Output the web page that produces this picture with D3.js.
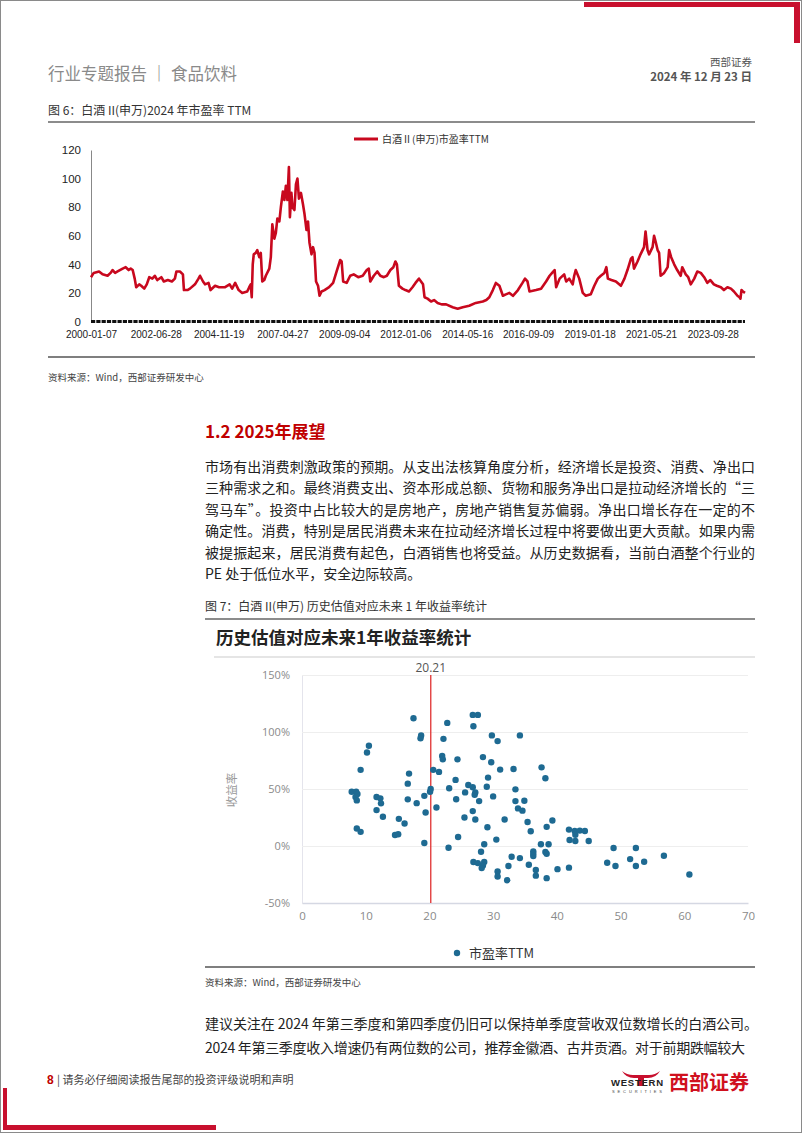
<!DOCTYPE html>
<html><head><meta charset="utf-8">
<script src="https://cdn.jsdelivr.net/npm/d3@7"></script>
<style>
body{margin:0;background:#fff;}
svg{display:block;}
</style></head>
<body>
<svg id="page" width="802" height="1133"></svg>
<script>
// ---------------- DATA ----------------
const peDates = ["2000-01-07","2000-02-14","2000-04-28","2000-06-16","2000-08-25","2000-10-06","2000-11-03","2000-12-08","2001-01-12","2001-03-23","2001-05-04","2001-06-15","2001-07-13","2001-08-10","2001-09-07","2001-09-28","2001-11-09","2001-12-07","2002-01-18","2002-02-22","2002-03-29","2002-05-10","2002-06-14","2002-07-19","2002-09-13","2002-10-18","2002-12-13","2003-02-07","2003-03-21","2003-04-11","2003-05-30","2003-07-11","2003-07-25","2003-09-12","2003-10-17","2003-12-26","2004-02-13","2004-03-05","2004-04-16","2004-05-14","2004-07-02","2004-07-30","2004-10-01","2004-11-26","2005-02-18","2005-04-22","2005-05-27","2005-07-08","2005-08-26","2005-10-14","2005-12-23","2006-01-20","2006-02-10","2006-02-24","2006-03-10","2006-03-24","2006-04-21","2006-05-12","2006-06-09","2006-06-30","2006-07-21","2006-08-18","2006-09-08","2006-10-27","2006-11-17","2006-12-08","2007-01-05","2007-01-26","2007-02-16","2007-03-16","2007-04-06","2007-05-04","2007-05-25","2007-06-15","2007-07-06","2007-07-27","2007-08-10","2007-08-31","2007-09-14","2007-10-12","2007-11-02","2007-11-23","2007-12-14","2008-01-11","2008-02-08","2008-03-01","2008-03-28","2008-04-18","2008-05-09","2008-06-06","2008-06-27","2008-07-18","2008-08-08","2008-09-05","2008-09-26","2008-10-24","2008-12-05","2009-02-06","2009-04-03","2009-05-22","2009-07-10","2009-07-31","2009-08-21","2009-10-09","2009-11-27","2010-01-15","2010-03-19","2010-05-21","2010-07-16","2010-08-13","2010-09-03","2010-10-22","2010-12-10","2011-01-21","2011-03-11","2011-04-22","2011-06-10","2011-07-22","2011-08-19","2011-09-09","2011-10-07","2011-11-25","2012-01-06","2012-02-24","2012-04-13","2012-05-25","2012-07-13","2012-08-10","2012-09-07","2012-09-28","2012-11-09","2012-12-28","2013-02-08","2013-03-29","2013-05-24","2013-07-26","2013-10-25","2014-01-03","2014-03-14","2014-06-13","2014-09-12","2014-12-19","2015-02-06","2015-03-20","2015-05-08","2015-06-19","2015-08-07","2015-09-25","2015-11-06","2015-12-25","2016-02-12","2016-04-22","2016-06-24","2016-07-29","2016-09-02","2016-09-30","2016-12-30","2017-03-10","2017-05-19","2017-07-07","2017-08-11","2017-09-15","2017-10-06","2017-11-24","2018-01-26","2018-02-23","2018-04-06","2018-05-25","2018-06-15","2018-07-06","2018-08-24","2018-10-12","2018-11-23","2019-02-01","2019-03-22","2019-05-10","2019-06-21","2019-08-09","2019-09-06","2019-09-27","2019-11-15","2020-01-17","2020-03-27","2020-05-15","2020-06-26","2020-08-14","2020-09-04","2020-09-25","2020-11-13","2020-12-25","2021-02-12","2021-03-05","2021-04-02","2021-04-23","2021-06-11","2021-07-02","2021-07-23","2021-08-20","2021-09-10","2021-10-01","2021-11-19","2022-01-07","2022-01-28","2022-02-25","2022-04-08","2022-05-20","2022-07-08","2022-07-29","2022-09-16","2022-10-21","2022-11-25","2023-01-13","2023-02-24","2023-04-14","2023-05-31","2023-07-14","2023-08-25","2023-10-13","2023-11-24","2024-01-19","2024-03-01","2024-04-19","2024-06-07","2024-07-19","2024-09-06","2024-10-04","2024-10-18","2024-11-01","2024-11-22","2024-12-20"];
const peValues = [31,34,35,33,32,34,36,34,35,37,38,36,37,36,30,24,26,25,23,26,31,30,32,29,31,28,29,28,30,35,35,33,22,22,23,26,30,32,28,26,27,22,25,24,24,26,23,27,22,20,21,24,26,17,40,47,48,50,45,48,28,29,32,37,45,68,58,62,72,70,80,91,85,95,85,108,73,90,80,78,96,100,86,90,82,75,64,70,55,47,52,48,28,25,18,21,22,24,27,35,43,42,28,27,32,33,31,32,36,37,28,32,35,32,31,32,36,38,42,40,25,23,22,21,24,27,30,28,26,17,16,14,15,13,12,12,10,9,10,11,13,14,15,17,22,27,25,18,19,20,18,22,27,30,28,21,22,23,28,32,34,36,24,30,33,28,30,26,32,36,30,20,18,19,25,30,32,34,38,30,29,28,25,30,36,44,45,37,42,47,52,63,50,47,52,60,56,50,48,32,34,38,50,45,40,36,32,38,33,31,26,30,35,34,31,27,29,26,25,24,22,24,23,21,18,17,16,22,21,20];
const peTickDates = ["2000-01-07","2002-06-28","2004-11-19","2007-04-27","2009-09-04","2012-01-06","2014-05-16","2016-09-09","2019-01-18","2021-05-21","2023-09-28"];
const peYTicks = [0,20,40,60,80,100,120];
const peSeriesName = "白酒Ⅱ(申万)市盈率TTM";

// scatter: PE TTM vs next-1-year return (%)
const scatterPE  = [17.5,22.8,26.8,27.6,26.9,18.7,18.6,22.2,29.8,30.7,34.2,10.5,10.2,22.0,22.1,24.4,28.4,29.7,31.1,33.2,37.6,38.2,9.2,20.6,21.5,16.8,16.6,24.1,26.1,26.8,27.2,27.1,25.6,29.2,29.0,20.2,20.1,19.2,19.4,23.1,24.2,27.8,30.0,33.5,33.5,34.9,33.9,34.6,35.4,35.9,38.4,39.3,31.8,27.2,26.8,25.5,21.1,29.1,7.8,8.5,8.4,8.6,8.7,11.7,12.3,12.4,11.7,12.7,15.2,16.1,16.6,18.0,8.6,9.2,14.6,15.1,19.2,24.5,23.0,30.5,41.9,42.8,43.6,44.4,42.0,42.9,45.0,42.9,37.5,38.7,28.6,36.3,36.3,36.3,38.2,38.4,28.1,32.9,34.2,26.9,27.6,28.6,28.4,28.2,32.4,35.6,30.7,30.7,32.2,36.7,36.7,38.4,40.1,41.9,48.9,52.4,47.9,49.2,51.5,52.4,53.7,56.8,60.8];
const scatterRet = [112,108,115,115,105,97,94.5,94,97,92,97,88,82,79,76,76,78,73.5,67,67.6,69,59.4,66.8,66.8,65,63.5,54.7,58,53.5,51.5,47,45,47,60,52,50,47.6,44,29.4,50.6,41,39.4,43.5,49.7,39.4,39.7,33,31,21,13,16.8,22.4,23.2,23.2,30.6,25,33.8,16.5,47.6,47.6,43,40,45.6,43,41.8,37.4,31.5,25.6,23.8,19.7,40.9,37.6,15.3,12.4,9.7,10.3,2.6,7.9,-1.5,5.6,14.4,13.2,13.5,13.2,5.3,4.4,4.4,9.9,1.5,1.5,1.5,-4.7,-6.8,-8.8,-5.3,-6.8,-5.0,-9.4,-10.6,-14,-15,-14,-17,-19.4,-17.6,-16.5,-22.4,-26.8,-30,-21,-26,-28.2,-20.3,-19,-1.8,-1.8,-14.7,-17.6,-11.5,-17.6,-13.8,-8.5,-25];
const scatterXTicks = [0,10,20,30,40,50,60,70];
const scatterYTicks = [-50,0,50,100,150];
const currentPE = 20.21;
const scatterSeriesName = "市盈率TTM";

const paraLines = [
 "市场有出消费刺激政策的预期。从支出法核算角度分析，经济增长是投资、消费、净出口",
 "三种需求之和。最终消费支出、资本形成总额、货物和服务净出口是拉动经济增长的“三",
 "驾马车”。投资中占比较大的是房地产，房地产销售复苏偏弱。净出口增长存在一定的不",
 "确定性。消费，特别是居民消费未来在拉动经济增长过程中将要做出更大贡献。如果内需",
 "被提振起来，居民消费有起色，白酒销售也将受益。从历史数据看，当前白酒整个行业的",
 "PE 处于低位水平，安全边际较高。"
];
const bottomLines = [
 "建议关注在 2024 年第三季度和第四季度仍旧可以保持单季度营收双位数增长的白酒公司。",
 "2024 年第三季度收入增速仍有两位数的公司，推荐金徽酒、古井贡酒。对于前期跌幅较大"
];

// ---------------- PAGE ----------------
const CJK = "'Noto Sans CJK SC','Noto Sans',sans-serif";
const LAT = "'Liberation Sans',Arial,sans-serif";
const RED = "#c8102e";
const svg = d3.select("#page");

svg.append("rect").attr("x",0.5).attr("y",0.5).attr("width",801).attr("height",1132)
  .attr("fill","none").attr("stroke","#8a8a8a").attr("stroke-width",1);

// top-right red corner
svg.append("rect").attr("x",584).attr("y",2).attr("width",216).attr("height",5).attr("fill",RED);
svg.append("rect").attr("x",794).attr("y",2).attr("width",6).attr("height",41).attr("fill",RED);
// bottom-left red corner
svg.append("rect").attr("x",3).attr("y",1088).attr("width",4).attr("height",42).attr("fill",RED);
svg.append("rect").attr("x",3).attr("y",1125).attr("width",213).attr("height",5).attr("fill",RED);

function txt(x,y,s,opt={}){
  const t = svg.append("text").attr("x",x).attr("y",y).text(s)
    .attr("font-family",opt.family||CJK).attr("font-size",opt.size||12)
    .attr("fill",opt.fill||"#333").attr("font-weight",opt.weight||"normal")
    .attr("text-anchor",opt.anchor||"start");
  if(opt.len){t.attr("textLength",opt.len).attr("lengthAdjust","spacing");}
  return t;
}

// header
txt(48,80,"行业专题报告 ｜ 食品饮料",{size:16.5,fill:"#8a8a8a"});
txt(752,66,"西部证券",{size:10.5,fill:"#555",anchor:"end"});
txt(752,81,"2024 年 12 月 23 日",{size:11.5,fill:"#555",anchor:"end",weight:"bold"});
txt(48,115,"图 6：白酒 II(申万)2024 年市盈率 TTM",{size:12,fill:"#333"});
svg.append("line").attr("x1",48).attr("x2",755).attr("y1",122).attr("y2",122).attr("stroke","#666").attr("stroke-width",1.5);

// ---------------- CHART 1: line ----------------
const parse = d3.timeParse("%Y-%m-%d");
const peData = peDates.map((d,i)=>({date:parse(d),v:peValues[i]}));
const x1 = d3.scaleTime().domain([parse("2000-01-07"),parse("2024-12-20")]).range([91,745]);
const y1 = d3.scaleLinear().domain([0,120]).range([321.5,150]);

const yAx1 = svg.append("g").attr("transform","translate(91,0)")
  .call(d3.axisLeft(y1).tickValues(peYTicks).tickSize(0).tickPadding(10));
yAx1.select(".domain").attr("stroke","#888");
yAx1.selectAll("text").attr("font-family",LAT).attr("font-size",11.5).attr("fill","#222");

const xAx1 = svg.append("g").attr("transform","translate(0,321.5)")
  .call(d3.axisBottom(x1).tickValues(peTickDates.map(parse)).tickSize(0).tickPadding(9)
        .tickFormat(d3.timeFormat("%Y-%m-%d")));
xAx1.select(".domain").remove();
xAx1.selectAll("text").attr("font-family",LAT).attr("font-size",10).attr("fill","#222");
// dense tick band on the x axis
svg.append("line").attr("x1",x1.range()[0]).attr("x2",x1.range()[1]).attr("y1",321.5).attr("y2",321.5)
  .attr("stroke","#111").attr("stroke-width",3).attr("stroke-dasharray","4.2,1.1");

svg.append("path").datum(peData)
  .attr("d",d3.line().x(d=>x1(d.date)).y(d=>y1(d.v)))
  .attr("fill","none").attr("stroke","#c8081e").attr("stroke-width",2.6).attr("stroke-linejoin","round");

// legend
svg.append("line").attr("x1",354).attr("x2",378).attr("y1",139).attr("y2",139).attr("stroke","#c8081e").attr("stroke-width",3);
txt(382,143,peSeriesName,{size:10,fill:"#333"});

svg.append("line").attr("x1",48).attr("x2",755).attr("y1",357).attr("y2",357).attr("stroke","#555").attr("stroke-width",1.5);
txt(48,381,"资料来源：Wind，西部证券研发中心",{size:9.5,fill:"#444"});

// ---------------- TEXT ----------------
txt(205,438,"1.2 2025年展望",{size:17,fill:"#c00000",weight:"bold"});
paraLines.forEach((l,i)=>{
  txt(205,472+i*21.4,l,{size:14,fill:"#222",len: i<5?550:null});
});
txt(205,611,"图 7：白酒 II(申万)  历史估值对应未来 1 年收益率统计",{size:12,fill:"#333"});
svg.append("line").attr("x1",205).attr("x2",755).attr("y1",619).attr("y2",619).attr("stroke","#666").attr("stroke-width",1.5);

// ---------------- CHART 2: scatter ----------------
txt(216,644,"历史估值对应未来1年收益率统计",{size:17.5,fill:"#222",weight:"bold"});
svg.append("line").attr("x1",214).attr("x2",755).attr("y1",657).attr("y2",657).attr("stroke","#ddd").attr("stroke-width",1.5);

const x2 = d3.scaleLinear().domain([0,70]).range([302,748]);
const y2 = d3.scaleLinear().domain([-50,150]).range([903,675]);

const grid = svg.append("g").attr("transform","translate(302,0)")
  .call(d3.axisLeft(y2).tickValues(scatterYTicks).tickSize(-446).tickPadding(12).tickFormat(d=>d+"%"));
grid.select(".domain").attr("stroke","#e4e4ec");
grid.selectAll(".tick line").attr("stroke","#eeeeee").attr("stroke-width",1.2);
grid.selectAll("text").attr("font-family","'Open Sans',sans-serif").attr("font-size",11).attr("fill","#8a8a8a");

const xAx2 = svg.append("g").attr("transform","translate(0,903)")
  .call(d3.axisBottom(x2).tickValues(scatterXTicks).tickSize(0).tickPadding(9));
xAx2.select(".domain").attr("stroke","#d5d8e3").attr("stroke-width",1.5);
xAx2.selectAll("text").attr("font-family","'Open Sans',sans-serif").attr("font-size",11.5).attr("fill","#8a8a8a");

svg.append("text").attr("transform","translate(236,790) rotate(-90)").attr("text-anchor","middle")
  .attr("font-family",CJK).attr("font-size",11.5).attr("fill","#999").text("收益率");

svg.append("line").attr("x1",x2(currentPE)).attr("x2",x2(currentPE)).attr("y1",y2(150)).attr("y2",y2(-50))
  .attr("stroke","#e03030").attr("stroke-width",1.3);
svg.append("text").attr("x",x2(currentPE)).attr("y",y2(150)-3).attr("text-anchor","middle")
  .attr("font-family","'Open Sans',sans-serif").attr("font-size",12).attr("fill","#555").text(currentPE.toFixed(2));

svg.append("g").selectAll("circle").data(scatterPE.map((p,i)=>({p,r:scatterRet[i]}))).join("circle")
  .attr("cx",d=>x2(d.p)).attr("cy",d=>y2(d.r)).attr("r",3.2).attr("fill","#1e6a92");

svg.append("circle").attr("cx",457).attr("cy",953).attr("r",3.2).attr("fill","#1e6a92");
txt(469,958,scatterSeriesName,{size:13,fill:"#333"});

svg.append("line").attr("x1",205).attr("x2",755).attr("y1",967).attr("y2",967).attr("stroke","#555").attr("stroke-width",1.5);
txt(205,986,"资料来源：Wind，西部证券研发中心",{size:9.5,fill:"#444"});

bottomLines.forEach((l,i)=>{ txt(205,1029+i*24,l,{size:14,fill:"#222",len: i===0?553:540}); });

// ---------------- FOOTER ----------------
txt(47,1084,"8",{family:LAT,size:12,fill:"#c00000",weight:"bold"});
txt(57,1084,"|  请务必仔细阅读报告尾部的投资评级说明和声明",{size:11,fill:"#444"});

// logo
svg.append("path").attr("d","M622,1071 Q626,1078 634,1078 L648,1078 Q656,1078 660,1071 Q655,1075 649,1075 L633,1075 Q627,1075 622,1071 Z").attr("fill",RED);
svg.append("rect").attr("x",638).attr("y",1076).attr("width",6).attr("height",10).attr("fill",RED);
txt(611,1086,"WESTERN",{family:LAT,size:9.5,fill:"#222",weight:"bold",len:52});
txt(612,1093,"SECURITIES",{family:LAT,size:4,fill:"#444",len:50});
txt(669,1090,"西部证券",{size:20,fill:"#d0101e",weight:"bold",len:80});
</script>
</body></html>
